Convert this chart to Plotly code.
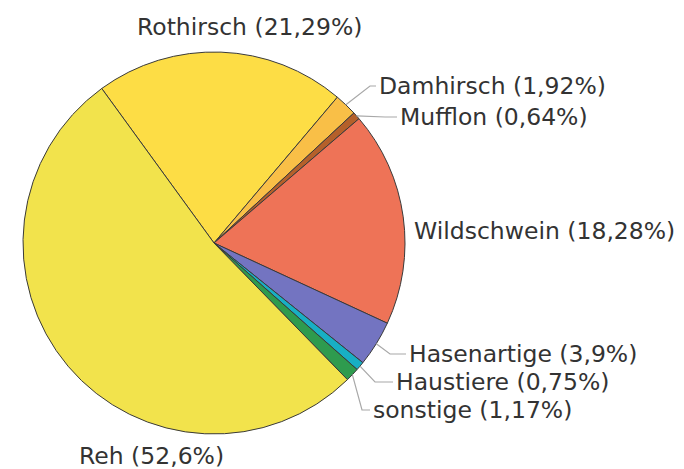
import math
import plotly.graph_objects as go

# Data
labels = ["Rothirsch", "Damhirsch", "Mufflon", "Wildschwein", "Hasenartige",
          "Haustiere", "sonstige", "Reh"]
values = [21.29, 1.92, 0.64, 18.28, 3.9, 0.75, 1.17, 52.6]
value_text = ["21,29", "1,92", "0,64", "18,28", "3,9", "0,75", "1,17", "52,6"]

colors = ["#FDDD45", "#F9BF47", "#B5602A", "#EE7357", "#7374C1",
          "#18AFC4", "#2E9B4E", "#F2E34C"]

W, H = 684, 469
CX, CY, R = 214, 243, 191
ROT = -36

fig = go.Figure(go.Pie(
    labels=labels, values=values, sort=False, direction="clockwise",
    rotation=ROT, textinfo="none", hoverinfo="label+percent",
    marker=dict(colors=colors, line=dict(color="#3a3a3a", width=1)),
    domain=dict(x=[(CX - R) / W, (CX + R) / W], y=[1 - (CY + R) / H, 1 - (CY - R) / H]),
    showlegend=False,
))

def px(x, y):
    return x / W, 1 - y / H

# mid angles from data
total = sum(values)
mids = {}
acc = ROT
for lab, v in zip(labels, values):
    a = v / total * 360
    mids[lab] = acc + a / 2
    acc += a

def edge(lab):
    a = math.radians(mids[lab])
    return CX + R * math.sin(a), CY - R * math.cos(a)

# label layout (pixel positions of text start / centre, leader elbows)
label_pos = {
    "Rothirsch": (249, 27, "center", None),
    "Damhirsch": (377, 86, "left", [(370, 86)]),
    "Mufflon": (398, 117, "left", [(385, 117)]),
    "Wildschwein": (412, 231, "left", None),
    "Hasenartige": (407, 354, "left", [(390, 354)]),
    "Haustiere": (394, 382, "left", [(375, 382)]),
    "sonstige": (371, 410, "left", [(362, 410)]),
    "Reh": (151, 456, "center", None),
}

annotations = []
shapes = []
for lab, vt in zip(labels, value_text):
    x, y, anchor, elbows = label_pos[lab]
    ax, ay = px(x, y)
    annotations.append(dict(
        x=ax, y=ay, xref="paper", yref="paper", xanchor=anchor, yanchor="middle",
        text=f"{lab} ({vt}%)", showarrow=False,
        font=dict(family="DejaVu Sans", size=23.5, color="#333333"),
    ))
    if elbows:
        pts = [edge(lab)] + elbows + [(x - 1, y)]
        path = "M " + " L ".join(f"{p[0] / W},{1 - p[1] / H}" for p in pts)
        shapes.append(dict(type="path", xref="paper", yref="paper", path=path,
                           line=dict(color="#a8a8a8", width=1.2)))

fig.update_layout(
    width=W, height=H, margin=dict(l=0, r=0, t=0, b=0),
    paper_bgcolor="white", plot_bgcolor="white",
    annotations=annotations, shapes=shapes,
)

fig.write_html("out.html", config={"displayModeBar": False},
               post_script="document.body.style.margin='0';")
